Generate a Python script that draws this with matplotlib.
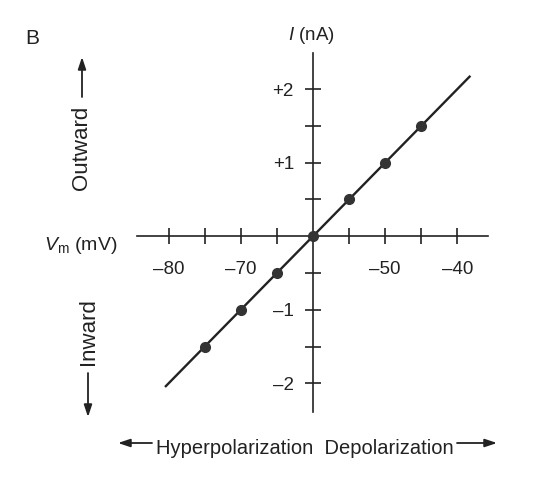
import matplotlib
matplotlib.use("Agg")
import matplotlib.pyplot as plt

plt.rcParams['font.family'] = ['Liberation Sans', 'DejaVu Sans']
plt.rcParams['mathtext.fontset'] = 'custom'
plt.rcParams['mathtext.rm'] = 'Liberation Sans'
plt.rcParams['mathtext.it'] = 'Liberation Sans:italic'

# ---- data ----
vm_points = [-75, -70, -65, -60, -55, -50, -45]
i_points = [-1.5, -1.0, -0.5, 0.0, 0.5, 1.0, 1.5]
fit_vm = [-80.5, -38.2]
fit_i = [-2.05, 2.18]

x_ticks = [-80, -75, -70, -65, -55, -50, -45, -40]
x_tick_labels = ["\u201380", "", "\u201370", "", "", "\u201350", "", "\u201340"]
y_ticks = [-2, -1.5, -1, -0.5, 0.5, 1, 1.5, 2]
y_tick_labels = ["\u20132", "", "\u20131", "", "", "+1", "", "+2"]

INK = "#222222"

W, H = 539, 500
fig = plt.figure(figsize=(W / 100, H / 100), dpi=100)
fig.patch.set_facecolor("white")

ax = fig.add_axes([137 / W, (H - 412) / H, 351 / W, 359 / H])
ax.set_xlim(-84.38, -35.76)
ax.set_ylim(-2.39, 2.49)
ax.patch.set_alpha(0)

for s in ("top", "right"):
    ax.spines[s].set_visible(False)
ax.spines["left"].set_position(("data", -60))
ax.spines["bottom"].set_position(("data", 0))
for s in ("left", "bottom"):
    ax.spines[s].set_linewidth(1.2)
    ax.spines[s].set_color(INK)

ax.set_xticks(x_ticks)
ax.set_xticklabels(x_tick_labels)
ax.set_yticks(y_ticks)
ax.set_yticklabels(y_tick_labels)
ax.tick_params(axis="both", direction="inout", length=11.5, width=1.2,
               color=INK, labelcolor=INK, labelsize=13.5)
ax.tick_params(axis="x", pad=12)
ax.tick_params(axis="y", pad=8)

ax.plot(fit_vm, fit_i, color=INK, lw=1.7, solid_capstyle="butt", zorder=3)
ax.plot(vm_points, i_points, "o", color="#333333", ms=7, zorder=4)

def fy(y):
    return H - y

fig.text(32 / W, fy(38) / H, "B", fontsize=15, color=INK, ha="center", va="center")
fig.text(311 / W, fy(35) / H, r"$I$ (nA)", fontsize=13.5, color=INK, ha="center", va="center")
fig.text(117 / W, fy(250) / H, r"$V_{\mathrm{m}}$ (mV)", fontsize=14, color=INK,
         ha="right", va="baseline")
fig.text(82 / W, fy(147.5) / H, "Outward", fontsize=16, color=INK, rotation=90,
         ha="center", va="center")
fig.text(88 / W, fy(331.5) / H, "Inward", fontsize=16, color=INK, rotation=90,
         ha="center", va="center")
fig.text(305 / W, fy(448) / H, "Hyperpolarization  Depolarization", fontsize=14.5,
         color=INK, ha="center", va="center")

arrow_kw = dict(arrowstyle="-|>,head_length=0.6,head_width=0.2", lw=1.3,
                color=INK, mutation_scale=12, shrinkA=0, shrinkB=0)
def arrow(x0, y0, x1, y1):
    fig.add_artist(matplotlib.patches.FancyArrowPatch(
        (x0, fy(y0)), (x1, fy(y1)), transform=None, **arrow_kw))

arrow(82, 97, 82, 57)
arrow(88, 373, 88, 417)
arrow(152, 443, 118, 443)
arrow(457, 443, 497, 443)

fig.savefig("out.png", dpi=100, facecolor="white")
